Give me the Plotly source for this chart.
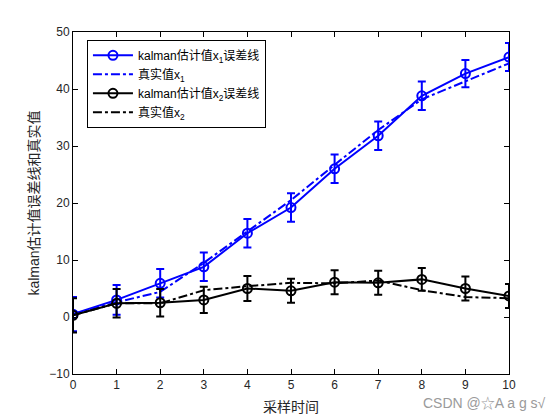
import plotly.graph_objects as go

# sample index
t = [0, 1, 2, 3, 4, 5, 6, 7, 8, 9, 10]

# state 1: kalman estimate, error bar, true value
x1_est = [0.5, 3.0, 5.9, 8.8, 14.7, 19.2, 26.0, 31.8, 38.8, 42.7, 45.6]
x1_err = [3.0, 2.6, 2.5, 2.5, 2.5, 2.5, 2.5, 2.5, 2.5, 2.4, 2.45]
x1_true = [0.5, 2.6, 4.4, 9.5, 15.0, 20.5, 26.7, 32.8, 38.2, 41.3, 44.5]

# state 2
x2_est = [0.3, 2.4, 2.5, 3.0, 5.0, 4.6, 6.1, 6.0, 6.6, 5.0, 3.7]
x2_err = [3.0, 2.5, 2.4, 2.3, 2.2, 2.1, 2.1, 2.1, 2.0, 2.1, 2.1]
x2_true = [0.3, 2.4, 2.4, 4.7, 5.4, 6.0, 5.9, 6.4, 4.7, 3.5, 3.3]

FONT = "Liberation Sans, Arial, Noto Sans CJK SC, sans-serif"
BLUE = "#0000FF"
BLACK = "#000000"

fig = go.Figure()

fig.add_trace(go.Scatter(
    x=t, y=x1_est,
    mode="lines+markers",
    name="kalman估计值x<sub>1</sub>误差线",
    line=dict(color=BLUE, width=2),
    marker=dict(symbol="circle-open", size=9, color=BLUE, line=dict(width=2)),
    error_y=dict(type="data", array=x1_err, visible=True, color=BLUE, thickness=2, width=4),
))
fig.add_trace(go.Scatter(
    x=t, y=x1_true,
    mode="lines",
    name="真实值x<sub>1</sub>",
    line=dict(color=BLUE, width=2, dash="dashdot"),
))
fig.add_trace(go.Scatter(
    x=t, y=x2_est,
    mode="lines+markers",
    name="kalman估计值x<sub>2</sub>误差线",
    line=dict(color=BLACK, width=2),
    marker=dict(symbol="circle-open", size=9, color=BLACK, line=dict(width=2)),
    error_y=dict(type="data", array=x2_err, visible=True, color=BLACK, thickness=2, width=4),
))
fig.add_trace(go.Scatter(
    x=t, y=x2_true,
    mode="lines",
    name="真实值x<sub>2</sub>",
    line=dict(color=BLACK, width=2, dash="dashdot"),
))

axis_style = dict(
    showgrid=False,
    zeroline=False,
    showline=True,
    linecolor="black",
    linewidth=1,
    mirror="ticks",
    ticks="inside",
    ticklen=5,
    tickcolor="black",
    tickfont=dict(family=FONT, size=12, color="#262626"),
)

fig.update_xaxes(
    range=[0, 10], dtick=1,
    title=dict(text="采样时间", font=dict(family=FONT, size=14, color="#262626"), standoff=10),
    **axis_style,
)
fig.update_yaxes(
    range=[-10, 50], dtick=10,
    title=dict(text="kalman估计值误差线和真实值", font=dict(family=FONT, size=14, color="#262626"), standoff=6),
    **axis_style,
)

fig.add_annotation(
    text="CSDN @☆A a g s√",
    xref="paper", yref="paper",
    x=1.09, y=-0.085,
    xanchor="right", yanchor="middle",
    showarrow=False,
    font=dict(family=FONT, size=14, color="#9a9a9a"),
)

# page body has an 8px margin, so the plot box is moved up/left to match
fig.update_layout(
    width=560,
    height=420,
    margin=dict(l=65, r=59, t=24, b=54),
    plot_bgcolor="white",
    paper_bgcolor="white",
    font=dict(family=FONT, size=11, color="black"),
    showlegend=True,
    legend=dict(
        x=0.032, y=0.977,
        xanchor="left", yanchor="top",
        bgcolor="white",
        bordercolor="black",
        borderwidth=1,
        font=dict(family=FONT, size=12, color="black"),
        itemwidth=40,
        tracegroupgap=0,
    ),
)

fig.write_html("out.html")
